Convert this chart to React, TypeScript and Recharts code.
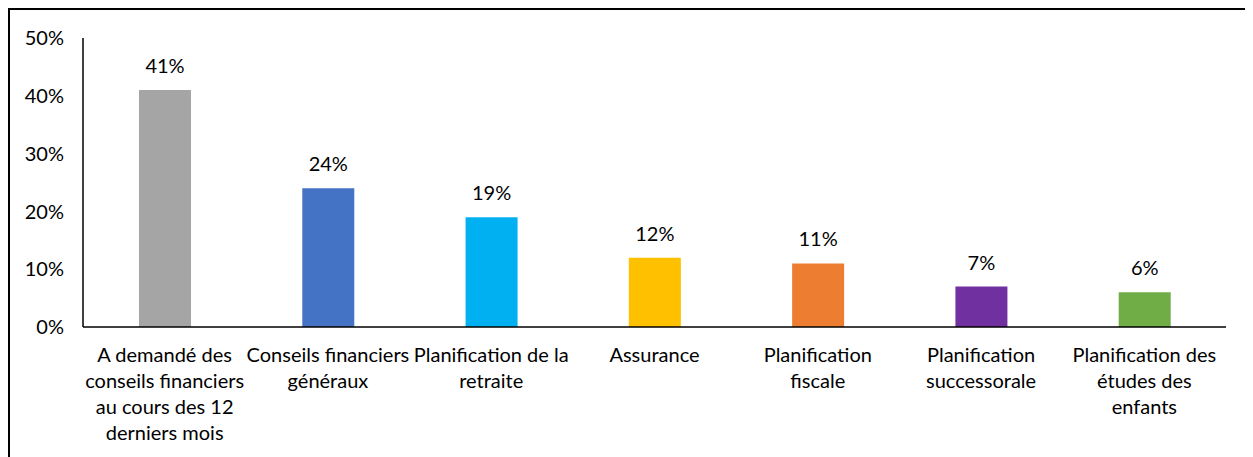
import { BarChart, Bar, XAxis, YAxis, LabelList, Cell } from 'recharts';

const categories = [
    'A demandé des conseils financiers au cours des 12 derniers mois',
    'Conseils financiers généraux',
    'Planification de la retraite',
    'Assurance',
    'Planification fiscale',
    'Planification successorale',
    'Planification des études des enfants',
];

// how each category label wraps under the axis
const labelLines = [
    ['A demandé des', 'conseils financiers', 'au cours des 12', 'derniers mois'],
    ['Conseils financiers', 'généraux'],
    ['Planification de la', 'retraite'],
    ['Assurance'],
    ['Planification', 'fiscale'],
    ['Planification', 'successorale'],
    ['Planification des', 'études des', 'enfants'],
];

const values = [41, 24, 19, 12, 11, 7, 6];

const COLORS = ['#A5A5A5', '#4472C4', '#00B0F0', '#FFC000', '#ED7D31', '#7030A0', '#70AD47'];

const yTicks = [0, 10, 20, 30, 40, 50];

const FONT = 'Lato, "Open Sans", sans-serif';
const FS = 20;

const data = categories.map((name, i) => ({ name, value: values[i], color: COLORS[i], idx: i }));

const CategoryTick = (props: any) => {
    const { x, y, index } = props;
    const lines = labelLines[index] || [];
    return (
        <g transform={`translate(${x},${y})`}>
            {lines.map((line, i) => (
                <text
                    key={i}
                    x={0}
                    y={27 + i * 26}
                    textAnchor="middle"
                    fill="#000"
                    fontSize={FS}
                    fontFamily={FONT}
                >
                    {line}
                </text>
            ))}
        </g>
    );
};

export default function App() {
    return (
        <div style={{ position: 'relative', width: 1245, height: 449, overflow: 'hidden' }}>
            <div
                style={{
                    position: 'absolute',
                    left: 0,
                    top: 0,
                    width: 1245,
                    height: 449,
                    borderTop: '2px solid #000',
                    borderLeft: '2px solid #000',
                    boxSizing: 'border-box',
                }}
            />
            <div style={{ position: 'absolute', left: 0, top: 0 }}>
                <BarChart
                    width={1245}
                    height={449}
                    data={data}
                    margin={{ top: 30, right: 27, left: 0, bottom: 10 }}
                    barSize={52}
                >
                    <XAxis
                        dataKey="name"
                        height={120}
                        axisLine={{ stroke: '#000', strokeWidth: 1.5 }}
                        tickLine={false}
                        interval={0}
                        tick={<CategoryTick />}
                    />
                    <YAxis
                        width={75}
                        domain={[0, 50]}
                        ticks={yTicks}
                        interval={0}
                        tickFormatter={(v: number) => `${v}%`}
                        axisLine={{ stroke: '#000', strokeWidth: 1.5 }}
                        tickLine={false}
                        tickMargin={13}
                        tick={{ fill: '#000', fontSize: FS, fontFamily: FONT }}
                    />
                    <Bar dataKey="value" isAnimationActive={false}>
                        {data.map((entry, index) => (
                            <Cell key={`cell-${index}`} fill={entry.color} />
                        ))}
                        <LabelList
                            dataKey="value"
                            position="top"
                            offset={17}
                            formatter={(v: any) => `${v}%`}
                            style={{ fill: '#000', fontSize: FS, fontFamily: FONT }}
                        />
                    </Bar>
                </BarChart>
            </div>
        </div>
    );
}
